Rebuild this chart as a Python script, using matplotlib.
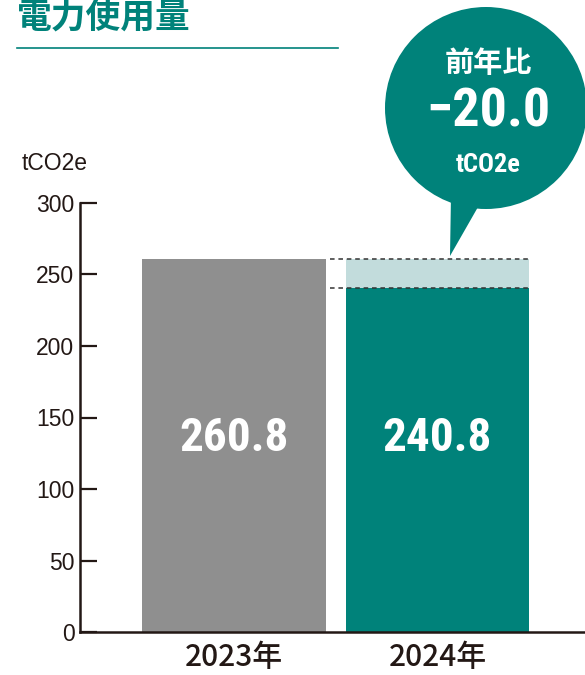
import matplotlib.pyplot as plt
from matplotlib.patches import Circle, Polygon

years = ["2023年", "2024年"]
usage = [260.8, 240.8]
diff_label = "−20.0"
unit = "tCO2e"
yticks = [0, 50, 100, 150, 200, 250, 300]

teal = "#00827a"
gray = "#8f8f8f"
pale = "#c2dcdc"
ink = "#231815"

cjk = ["Noto Sans CJK JP", "DejaVu Sans"]
narrow = ["Roboto Condensed", "Open Sans Condensed", "Liberation Sans Narrow", "Liberation Sans"]
plt.rcParams["font.family"] = cjk

fig = plt.figure(figsize=(5.85, 6.75), dpi=100)
W, H = 585, 675
ax = fig.add_axes([80 / W, 43 / H, (W - 80) / W, (632 - 203) / H])

x = [0, 1]
ax.bar(x, usage, width=0.904, color=[gray, teal], zorder=2)
# previous-year ghost on top of 2024 bar
ax.bar(x[1], usage[0] - usage[1], bottom=usage[1], width=0.904, color=pale, zorder=1)
for v in usage:
    ax.hlines(v, 0.47, 1.452, colors="#333333", linestyles=(0, (3, 2.5)), lw=1.1, zorder=3)

for xi, v in zip(x, usage):
    ax.text(xi, 136, f"{v:.1f}", ha="center", va="center", color="white",
            fontsize=34, fontweight="bold", family=narrow)

ax.set_xlim(-0.757, 1.725)
ax.set_ylim(0, 300)
ax.set_yticks(yticks)
ax.set_xticks(x)
ax.set_xticklabels(years, fontsize=21.5, color=ink, fontweight="medium")
ax.tick_params(axis="y", direction="in", length=12, width=1.6, color=ink,
               labelsize=16.5, labelcolor=ink, pad=4)
ax.tick_params(axis="x", length=0, pad=7)
for lab in ax.get_yticklabels():
    lab.set_family(["Liberation Sans"] + cjk)
for s in ["top", "right"]:
    ax.spines[s].set_visible(False)
for s in ["left", "bottom"]:
    ax.spines[s].set_linewidth(1.8)
    ax.spines[s].set_color(ink)
ax.set_facecolor("none")

# overlay in pixel coordinates for title and bubble
top = fig.add_axes([0, 0, 1, 1], zorder=5)
top.set_xlim(0, W)
top.set_ylim(H, 0)
top.axis("off")

top.text(17, 17, "電力使用量", color=teal, fontsize=25, fontweight="bold",
         va="center", ha="left")
top.plot([17, 338], [48, 48], color=teal, lw=1.2)
top.text(22, 163, unit, fontsize=16.5, color=ink, va="center", ha="left",
         family=["Liberation Sans"] + cjk)

top.add_patch(Circle((486, 108), 101, color=teal, lw=0))
top.add_patch(Polygon([(451, 195), (482, 200), (450, 256)], closed=True, color=teal, lw=0))
top.text(488, 63, "前年比", color="white", fontsize=21, fontweight="bold",
         ha="center", va="center")
top.text(488, 112, diff_label, color="white", fontsize=39, fontweight="bold",
         ha="center", va="center", family=narrow)
top.text(488, 165, unit, color="white", fontsize=19, fontweight="bold",
         ha="center", va="center", family=narrow)

fig.savefig("out.png", dpi=100)
